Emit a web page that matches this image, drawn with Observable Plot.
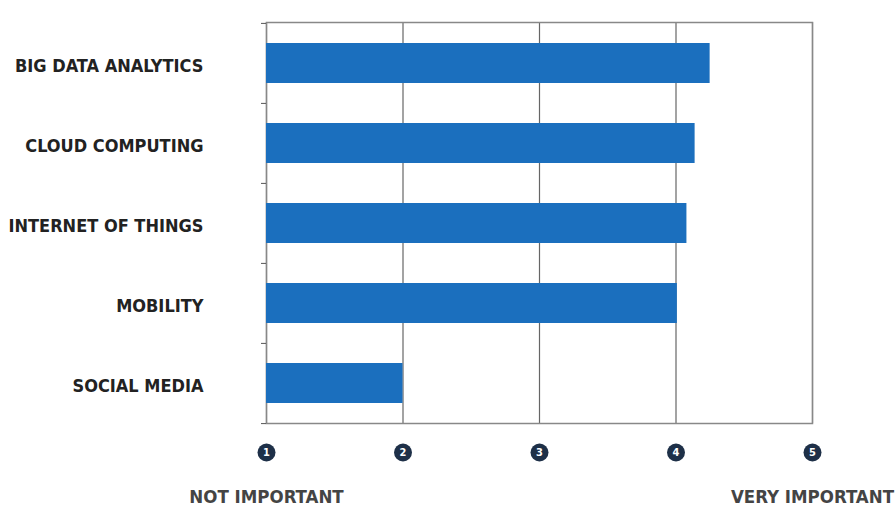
<!DOCTYPE html>
<html>
<head>
<meta charset="utf-8">
<script src="https://cdn.jsdelivr.net/npm/d3@7"></script>
<script src="https://cdn.jsdelivr.net/npm/@observablehq/plot@0.6"></script>
<style>
  html, body { margin: 0; padding: 0; background: #fff; }
  #chart { width: 896px; height: 506px; }
</style>
</head>
<body>
<div id="chart"></div>
<script>
const categories = ["BIG DATA ANALYTICS", "CLOUD COMPUTING", "INTERNET OF THINGS", "MOBILITY", "SOCIAL MEDIA"];
const values = [4.25, 4.14, 4.08, 4.01, 2.0];
const tickValues = [1, 2, 3, 4, 5];
const endLabels = [{x: 1, label: "NOT IMPORTANT"}, {x: 5, label: "VERY IMPORTANT"}];

const data = categories.map((c, i) => ({category: c, value: values[i]}));
const font = "'DejaVu Sans Condensed', 'DejaVu Sans', sans-serif";

const W = 896, H = 506, mt = 22, mb = 83, ml = 266, mr = 84;
const step = (H - mt - mb) / categories.length;

const chart = Plot.plot({
  width: W,
  height: H,
  marginTop: mt,
  marginBottom: mb,
  marginLeft: ml,
  marginRight: mr,
  style: {fontFamily: font, background: "#fff"},
  x: {domain: [1, 5], axis: null},
  y: {domain: categories, paddingInner: 0.5, paddingOuter: 0.25, axis: null, label: null},
  marks: [
    Plot.gridX(tickValues, {stroke: "#666", strokeOpacity: 1, strokeWidth: 1.2}),
    Plot.frame({stroke: "#888", strokeWidth: 1.5}),
    Plot.barX(data, {x1: 1, x2: "value", y: "category", fill: "#1b6fbe"}),
    // boundary tick marks on the left axis
    Plot.axisY({tickSize: 5, dy: -step / 2, text: null, label: null, stroke: "#555"}),
    Plot.axisY({ticks: [categories[categories.length - 1]], tickSize: 5, dy: step / 2, text: null, label: null, stroke: "#555"}),
    // category labels
    Plot.axisY({tickSize: 0, tickPadding: 63, dy: 3, label: null, fontSize: 18, fontWeight: "bold", fill: "#222"}),
    // numbered circle ticks
    Plot.dot(tickValues, {x: d => d, frameAnchor: "bottom", dy: 29, r: 9, fill: "#1e3048"}),
    Plot.text(tickValues, {x: d => d, text: d => String(d), frameAnchor: "bottom", dy: 29, lineAnchor: "middle", fill: "#fff", fontSize: 11, fontWeight: "bold", textAnchor: "middle"}),
    // end labels
    Plot.text(endLabels, {x: "x", text: "label", frameAnchor: "bottom", dy: 74, lineAnchor: "middle", fill: "#444", fontSize: 18.5, fontWeight: "bold", textAnchor: "middle"})
  ]
});
document.getElementById("chart").appendChild(chart);
</script>
</body>
</html>
